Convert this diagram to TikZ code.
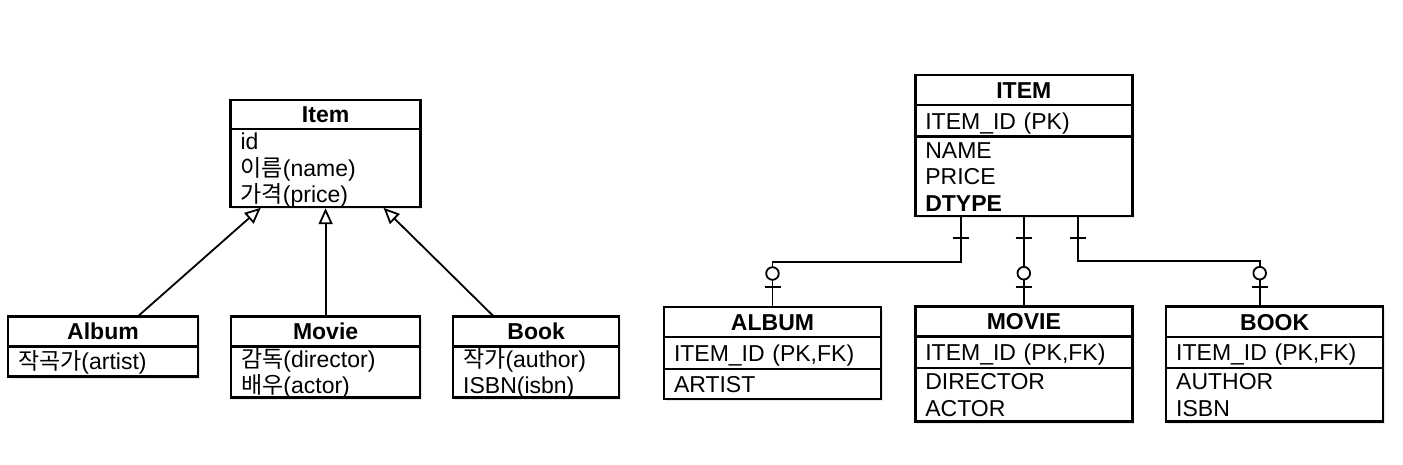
\documentclass[tikz,border=0pt]{standalone}
\usepackage{fontspec}
\setmainfont{Liberation Sans}
\newfontfamily\fontkr{Noto Sans CJK KR}
\usepackage{tikz}
\usetikzlibrary{arrows.meta, calc, positioning, shadows}
\newcommand{\kor}[1]{{\fontkr #1}}

\begin{document}
\begin{tikzpicture}[x = 1pt, y = 1pt,
    scatola/.style = {draw, fill = white, line width = 2.4pt, outer sep = 0pt, anchor = north,
        drop shadow = {opacity = 0.18, shadow xshift = 1.5pt, shadow yshift = -2.5pt}},
    testa/.style 2 args = {scatola, inner sep = 0pt, minimum width = #1, minimum height = #2,
        font = \fontsize{23}{26.5}\selectfont\bfseries, text height = 16.5pt, text depth = 0pt},
    campo/.style n args = {3}{scatola, inner xsep = 10pt, inner ysep = 0pt, minimum width = #1,
        text width = {#1-20}, minimum height = #2, align = left,
        font = \fontsize{23}{26.5}\selectfont, text height = 16.5pt, text depth = #3},
    legame/.style = {line width = 1.8pt},
    eredita/.style = {line width = 1.8pt, shorten > = 1.2pt,
        -{Triangle[open, length = 16pt, width = 14pt, line width = 1.8pt]}}]
    \useasboundingbox (0,0) rectangle (1403,465);
    % Diagramma delle classi
    \node[testa = {190}{29}] (cItem) at (325.6,365) {Item};
    \node[campo = {190}{78}{53pt}, below = 0pt of cItem] (cItemCorpo) {id\\\kor{이름}(name)\\\kor{가격}(price)};
    \node[testa = {190}{30}] (cAlbum) at (103,148.5) {Album};
    \node[campo = {190}{30}{0pt}, below = 0pt of cAlbum] (cAlbumCorpo) {\kor{작곡가}(artist)};
    \node[testa = {189}{30}] (cMovie) at (325.6,148.3) {Movie};
    \node[campo = {189}{51}{26.5pt}, below = 0pt of cMovie] (cMovieCorpo) {\kor{감독}(director)\\\kor{배우}(actor)};
    \node[testa = {166}{30}] (cBook) at (536.2,148.3) {Book};
    \node[campo = {166}{51}{26.5pt}, below = 0pt of cBook] (cBookCorpo) {\kor{작가}(author)\\ISBN(isbn)};
    % Ereditarieta'
    \draw[eredita] ($(cAlbum.north)+(34.7,0)$) -- ($(cItemCorpo.south)+(-63.9,0)$);
    \draw[eredita] (cMovie.north) -- (cItemCorpo.south);
    \draw[eredita] ($(cBook.north)+(-42.2,0)$) -- ($(cItemCorpo.south)+(57.1,0)$);
    % Tabelle
    \node[testa = {217}{30}] (eItem) at (1023.8,390) {ITEM};
    \node[campo = {217}{31.7}{0pt}, below = 0pt of eItem] (eItemId) {ITEM\_ID (PK)};
    \node[campo = {217}{79.3}{53pt}, below = 0pt of eItemId] (eItemCorpo) {NAME\\PRICE\\\textbf{DTYPE}};
    \node[testa = {217}{30}] (eAlbum) at (772.5,158) {ALBUM};
    \node[campo = {217}{32}{0pt}, below = 0pt of eAlbum] (eAlbumId) {ITEM\_ID (PK,FK)};
    \node[campo = {217}{30}{0pt}, below = 0pt of eAlbumId] (eAlbumCorpo) {ARTIST};
    \node[testa = {217}{30}] (eMovie) at (1023.8,158.3) {MOVIE};
    \node[campo = {217}{31.5}{0pt}, below = 0pt of eMovie] (eMovieId) {ITEM\_ID (PK,FK)};
    \node[campo = {217}{53.5}{26.5pt}, below = 0pt of eMovieId] (eMovieCorpo) {DIRECTOR\\ACTOR};
    \node[testa = {217}{30.5}] (eBook) at (1274.7,158.3) {BOOK};
    \node[campo = {217}{31}{0pt}, below = 0pt of eBook] (eBookId) {ITEM\_ID (PK,FK)};
    \node[campo = {217}{53.4}{26.5pt}, below = 0pt of eBookId] (eBookCorpo) {AUTHOR\\ISBN};
    % Relazioni
    \coordinate (r1) at ($(eItemCorpo.south)+(-63,0)$);
    \coordinate (r2) at (eItemCorpo.south);
    \coordinate (r3) at ($(eItemCorpo.south)+(54,0)$);
    \coordinate (f1) at (eAlbum.north);
    \coordinate (f2) at (eMovie.north);
    \coordinate (f3) at ($(eBook.north)+(-15,0)$);
    \draw[legame] (r1) |- ($(f1)+(0,45.3)$) -- (f1);
    \draw[legame] (r2) -- (f2);
    \draw[legame] (r3) |- ($(f3)+(0,45.3)$) -- (f3);
    % lato uno
    \foreach \r in {r1,r2,r3}
        \draw[legame] ($(\r)+(-8,-22)$) -- ($(\r)+(8,-22)$);
    % lato zero o uno
    \foreach \f in {f1,f2,f3}{
        \draw[legame] ($(\f)+(-8,20)$) -- ($(\f)+(8,20)$);
        \draw[legame, fill = white] ($(\f)+(0,33.5)$) circle (6.3pt);
    }
\end{tikzpicture}
\end{document}
